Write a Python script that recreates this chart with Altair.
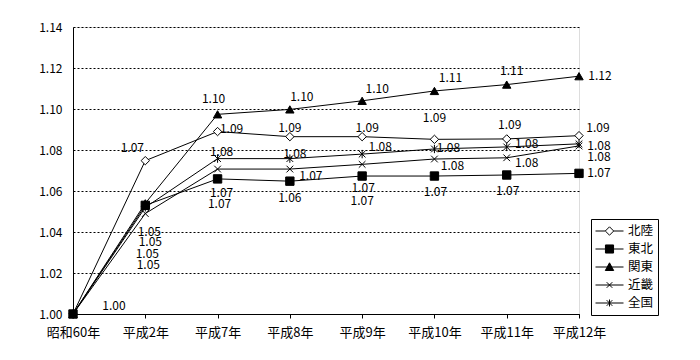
import altair as alt
import pandas as pd

# ---- data ----
categories = ["昭和60年", "平成2年", "平成7年", "平成8年", "平成9年", "平成10年", "平成11年", "平成12年"]
series_names = ["北陸", "東北", "関東", "近畿", "全国"]
hokuriku = [1.00, 1.0748, 1.089, 1.0865, 1.0865, 1.0852, 1.0854, 1.087]
tohoku = [1.00, 1.053, 1.0659, 1.0648, 1.0673, 1.0673, 1.0678, 1.0686]
kanto = [1.00, 1.054, 1.0974, 1.0998, 1.104, 1.1088, 1.1119, 1.116]
kinki = [1.00, 1.049, 1.0707, 1.0707, 1.073, 1.0756, 1.0762, 1.082]
zenkoku = [1.00, 1.052, 1.0758, 1.0758, 1.078, 1.0805, 1.0815, 1.083]
y_ticks = [1.00, 1.02, 1.04, 1.06, 1.08, 1.10, 1.12, 1.14]

# ---- layout / style (label pixel offsets, as placed in the original) ----
label_offsets = {
    "北陸": [(41, -8), (-13, -13), (14, -3), (0, -9), (5, -9), (0, -21), (3, -14), (19, -8)],
    "東北": [None, (2, 49), (2, 25), (0, 17), (0, 25), (1, 16), (1, 16), (20, 0)],
    "関東": [None, (3, 62), (-4, -15), (12, -12), (15, -12), (16, -13), (5, -14), (21, 0)],
    "近畿": [None, (5, 28), (4, 24), (21, 7), (1, 24), (18, 7), (20, 5), (20, 11)],
    "全国": [None, (4, 25), (4, -7), (5, -5), (18, -7), (14, -1), (20, -3), (20, 2)],
}
FONT = "Noto Sans CJK JP"

point_shapes = [
    "diamond",
    "square",
    "triangle-up",
    "M-0.8,-0.8L0.8,0.8M-0.8,0.8L0.8,-0.8",
    "M-0.8,-0.8L0.8,0.8M-0.8,0.8L0.8,-0.8M0,-1L0,1",
]
point_fills = ["white", "black", "black", "transparent", "transparent"]
legend_shapes = [
    "M-1,0L-0.3,0M0.3,0L1,0M0,-0.3L0.3,0L0,0.3L-0.3,0Z",
    "M-1,0L1,0M-0.29,-0.29L0.29,-0.29L0.29,0.29L-0.29,0.29Z",
    "M-1,0L1,0M0,-0.3L0.3,0.25L-0.3,0.25Z",
    "M-1,0L1,0M-0.2,-0.2L0.2,0.2M-0.2,0.2L0.2,-0.2",
    "M-1,0L1,0M-0.2,-0.2L0.2,0.2M-0.2,0.2L0.2,-0.2M0,-0.25L0,0.25",
]
legend_fills = ["white", "black", "black", "black", "black"]
legend_strokes = ["black"] * 5

values_by_series = {"北陸": hokuriku, "東北": tohoku, "関東": kanto, "近畿": kinki, "全国": zenkoku}
rows = []
for s in series_names:
    for i, c in enumerate(categories):
        off = label_offsets[s][i]
        rows.append({
            "series": s, "cat": c, "idx": i, "value": values_by_series[s][i],
            "lab_key": "none" if off is None else f"{off[0]}_{off[1]}",
        })
df = pd.DataFrame(rows)

x_enc = alt.X("cat:O", sort=categories,
              scale=alt.Scale(type="point", padding=0),
              axis=alt.Axis(title=None, labelAngle=0, domainColor="black", tickColor="black",
                            tickSize=4, labelPadding=8, labelFontSize=13, labelColor="black",
                            labelFont=FONT, grid=False))
y_enc = alt.Y("value:Q", scale=alt.Scale(domain=[1.0, 1.14], nice=False, zero=False),
              axis=alt.Axis(title=None, values=y_ticks, format=".2f", ticks=False, labelPadding=11,
                            grid=True, gridColor="black", gridDash=[2, 2], gridWidth=1,
                            gridOpacity=1, domainColor="black", labelFontSize=12,
                            labelColor="black", labelFont=FONT))

base = alt.Chart(df)

lines = base.mark_line(color="black", strokeWidth=1).encode(
    x=x_enc, y=y_enc, detail="series:N",
    order=alt.Order("idx:Q"),
)

points = base.mark_point(filled=True, stroke="black", strokeWidth=1, opacity=1, size=70).encode(
    x=x_enc, y=y_enc,
    shape=alt.Shape("series:N", scale=alt.Scale(domain=series_names, range=point_shapes), legend=None),
    fill=alt.Fill("series:N", scale=alt.Scale(domain=series_names, range=point_fills), legend=None),
)

label_layers = []
keys = sorted(set(k for k in df["lab_key"] if k != "none"))
for k in keys:
    dx, dy = (int(v) for v in k.split("_"))
    label_layers.append(
        base.transform_filter(alt.datum.lab_key == k).mark_text(
            dx=dx, dy=dy, align="center", baseline="middle", fontSize=12, font=FONT, color="black"
        ).encode(x=x_enc, y=y_enc, text=alt.Text("value:Q", format=".2f"))
    )

legend_cfg = dict(title=None, orient="none", legendX=518, legendY=192, strokeColor="black",
                  fillColor="white", padding=4, symbolSize=784, symbolStrokeWidth=1,
                  labelFont=FONT, labelFontSize=12.5, labelColor="black",
                  labelOffset=4, clipHeight=16, rowPadding=2, cornerRadius=0)

legend_layer = base.transform_filter("false").mark_point(
    filled=True, strokeWidth=1, opacity=1
).encode(
    x=x_enc, y=y_enc,
    shape=alt.Shape("series:N", scale=alt.Scale(domain=series_names, range=legend_shapes),
                    legend=alt.Legend(**legend_cfg)),
    fill=alt.Fill("series:N", scale=alt.Scale(domain=series_names, range=legend_fills),
                  legend=alt.Legend(**legend_cfg)),
    stroke=alt.Stroke("series:N", scale=alt.Scale(domain=series_names, range=legend_strokes),
                      legend=alt.Legend(**legend_cfg)),
)

chart = alt.layer(lines, points, *label_layers, legend_layer).resolve_scale(
    shape="independent", fill="independent", stroke="independent"
).properties(
    width=506, height=287,
    autosize=alt.AutoSizeParams(type="none"),
    padding={"left": 65, "top": 19, "right": 113, "bottom": 38},
).configure_view(stroke="black", strokeWidth=1).configure(background="white")

chart.save("out.html", embed_options={"renderer": "svg", "actions": False})
